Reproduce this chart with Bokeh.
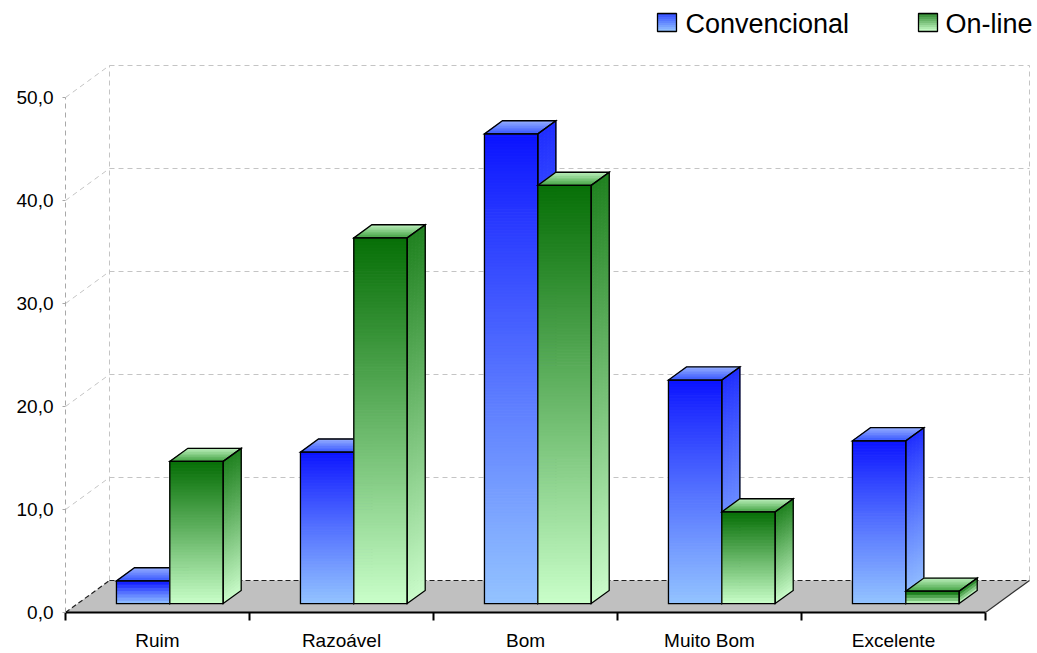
import numpy as np
from bokeh.plotting import figure
from bokeh.models import FixedTicker, Range1d
from bokeh.core.properties import value
from bokeh.embed import file_html
from bokeh.resources import INLINE

# ---- data -------------------------------------------------------------
categories = ["Ruim", "Razoável", "Bom", "Muito Bom", "Excelente"]
series_names = ["Convencional", "On-line"]
convencional = [2.2, 14.7, 45.6, 21.7, 15.8]
online = [13.8, 35.5, 40.6, 8.9, 1.2]
y_ticks = [0, 10, 20, 30, 40, 50]
y_tick_labels = ["0,0", "10,0", "20,0", "30,0", "40,0", "50,0"]

# ---- layout -----------------------------------------------------------
W, H = 1037, 653
LEFT, BOTTOM = 65, 41
PX_PER_CAT = 184.0
PX_PER_UNIT = 10.3
DEPTH_PX = (44.0, 32.0)          # oblique depth of the floor, in pixels
BAR_D0, BAR_D1 = 0.28, 0.69      # bar slab position inside the floor depth
BAR_W = 0.29                      # width of one bar, in category units

frame_w = W - LEFT
frame_h = H - BOTTOM
DX = DEPTH_PX[0] / PX_PER_CAT
DY = DEPTH_PX[1] / PX_PER_UNIT
n_cat = len(categories)
y_top = max(y_ticks)

FONT = "Liberation Sans"


def proj(x, v, d):
    """Oblique projection of (category x, value v, depth d) to the plot plane."""
    return x + d * DX, v + d * DY


def px_x(X):
    return (X - LEFT) / PX_PER_CAT


def px_y(Y):
    return (frame_h - Y) / PX_PER_UNIT


def mix(c0, c1, t):
    r, g, b = (int(round(a + (b_ - a) * t)) for a, b_ in zip(c0, c1))
    return "#%02x%02x%02x" % (r, g, b)


p = figure(width=W, height=H, output_backend="svg", toolbar_location=None,
           x_range=Range1d(0, frame_w / PX_PER_CAT),
           y_range=Range1d(0, frame_h / PX_PER_UNIT),
           min_border_left=LEFT, min_border_right=0,
           min_border_top=0, min_border_bottom=BOTTOM)
p.outline_line_color = None
p.grid.visible = False
p.background_fill_color = "white"
p.border_fill_color = "white"

GRID = "#c4c4c4"

# ---- back wall and side wall ----------------------------------------
xs, ys = [], []
for v in y_ticks[1:]:
    a = proj(0, v, 1)
    b = proj(n_cat, v, 1)
    xs.append([a[0], b[0]]); ys.append([a[1], b[1]])
for x in (0, n_cat):
    a = proj(x, 0, 1)
    b = proj(x, y_top, 1)
    xs.append([a[0], b[0]]); ys.append([a[1], b[1]])
for v in y_ticks[1:]:
    a = proj(0, v, 0)
    b = proj(0, v, 1)
    xs.append([a[0], b[0]]); ys.append([a[1], b[1]])
p.multi_line(xs, ys, line_color=GRID, line_width=1, line_dash="5 4")

# ---- floor ------------------------------------------------------------
corners = [proj(0, 0, 0), proj(n_cat, 0, 0), proj(n_cat, 0, 1), proj(0, 0, 1)]
p.patch([c[0] for c in corners], [c[1] for c in corners],
        fill_color="#c0c0c0", line_color=None)
p.multi_line([[corners[3][0], corners[2][0]], [corners[0][0], corners[3][0]]],
             [[corners[3][1], corners[2][1]], [corners[0][1], corners[3][1]]],
             line_color="#202020", line_width=1.2, line_dash="5 3")
p.line([corners[1][0], corners[2][0]], [corners[1][1], corners[2][1]],
       line_color="#303030", line_width=1.2)

# ---- bars -------------------------------------------------------------
palettes = {
    "Convencional": dict(front=((10, 18, 255), (148, 196, 255)),
                         side=((30, 44, 255), (150, 196, 255)),
                         top=((52, 82, 255), (146, 172, 255))),
    "On-line": dict(front=((8, 112, 8), (202, 255, 202)),
                    side=((32, 130, 32), (202, 252, 202)),
                    top=((62, 160, 62), (186, 238, 186))),
}
GAMMA = {"Convencional": 0.9, "On-line": 1.05}


def bar(x0, h, pal, gamma):
    x1 = x0 + BAR_W
    fx, fy, fc = [], [], []
    # vertical gradient strips (side first, then front)
    n = max(4, int(h * PX_PER_UNIT / 3))
    edges = np.linspace(0, h, n + 1)
    for face in ("side", "front"):
        for k in range(n):
            va, vb = edges[k], edges[k + 1]
            t = ((h - 0.5 * (va + vb)) / h) ** gamma
            if face == "side":
                pts = [proj(x1, va, BAR_D0), proj(x1, vb, BAR_D0),
                       proj(x1, vb, BAR_D1), proj(x1, va, BAR_D1)]
            else:
                pts = [proj(x0, va, BAR_D0), proj(x1, va, BAR_D0),
                       proj(x1, vb, BAR_D0), proj(x0, vb, BAR_D0)]
            fx.append([q[0] for q in pts]); fy.append([q[1] for q in pts])
            fc.append(mix(*pal[face], t))
    # top face strips, front edge to back edge
    m = 8
    dep = np.linspace(BAR_D0, BAR_D1, m + 1)
    for j in range(m):
        t = (j + 0.5) / m
        pts = [proj(x0, h, dep[j]), proj(x1, h, dep[j]),
               proj(x1, h, dep[j + 1]), proj(x0, h, dep[j + 1])]
        fx.append([q[0] for q in pts]); fy.append([q[1] for q in pts])
        fc.append(mix(*pal["top"], t))
    p.patches(fx, fy, fill_color=fc, line_color=fc, line_width=1)

    # face outlines
    faces = [
        [proj(x0, 0, BAR_D0), proj(x1, 0, BAR_D0), proj(x1, h, BAR_D0), proj(x0, h, BAR_D0)],
        [proj(x1, 0, BAR_D0), proj(x1, 0, BAR_D1), proj(x1, h, BAR_D1), proj(x1, h, BAR_D0)],
        [proj(x0, h, BAR_D0), proj(x1, h, BAR_D0), proj(x1, h, BAR_D1), proj(x0, h, BAR_D1)],
    ]
    p.patches([[q[0] for q in f] for f in faces], [[q[1] for q in f] for f in faces],
              fill_color=None, line_color="black", line_width=1.3, line_join="miter")


series = [("Convencional", convencional), ("On-line", online)]
for i in range(n_cat):
    c = i + 0.5
    for s, (name, vals) in enumerate(series):
        bar(c - BAR_W + s * BAR_W, vals[i], palettes[name], GAMMA[name])

# ---- legend -----------------------------------------------------------
legend_items = [(657, 685), (918, 945)]
legend_tops = {"Convencional": (45, 70, 255), "On-line": (40, 130, 40)}
for (sq_x, tx_x), name in zip(legend_items, series_names):
    pal = palettes[name]["front"]
    y0, y1 = 13, 31
    n = 9
    lx, ly, lc = [], [], []
    for k in range(n):
        ya_ = y0 + (y1 - y0) * k / n
        yb_ = y0 + (y1 - y0) * (k + 1) / n
        lx.append([px_x(sq_x), px_x(sq_x + 19), px_x(sq_x + 19), px_x(sq_x)])
        ly.append([px_y(ya_), px_y(ya_), px_y(yb_), px_y(yb_)])
        lc.append(mix(legend_tops[name], pal[1], (k + 0.5) / n))
    p.patches(lx, ly, fill_color=lc, line_color=lc, line_width=1)
    p.patch([px_x(sq_x), px_x(sq_x + 19), px_x(sq_x + 19), px_x(sq_x)],
            [px_y(y0), px_y(y0), px_y(y1), px_y(y1)],
            fill_color=None, line_color="black", line_width=1.3)
    p.text([px_x(tx_x)], [px_y(23)], text=[name], text_font=value(FONT),
           text_font_size="27px", text_baseline="middle", text_align="left",
           text_color="#000000")

# ---- axes -------------------------------------------------------------
ya = p.yaxis[0]
ya.ticker = FixedTicker(ticks=y_ticks, minor_ticks=[])
ya.major_label_overrides = {t: l for t, l in zip(y_ticks, y_tick_labels)}
ya.bounds = (0, y_top)
ya.axis_line_color = "#a8a8a8"
ya.axis_line_dash = "5 4"
ya.major_tick_line_color = "#a8a8a8"
ya.major_tick_out = 3
ya.major_tick_in = 0
ya.major_label_standoff = 9
ya.major_label_text_font = FONT
ya.major_label_text_font_size = "19px"
ya.major_label_text_color = "#000000"

centers = [i + 0.5 for i in range(n_cat)]
xa = p.xaxis[0]
xa.ticker = FixedTicker(ticks=centers, minor_ticks=list(range(n_cat + 1)))
xa.major_label_overrides = {c: name for c, name in zip(centers, categories)}
xa.bounds = (0, n_cat)
xa.axis_line_color = "black"
xa.axis_line_width = 2
xa.major_tick_line_color = None
xa.major_tick_out = 0
xa.major_tick_in = 0
xa.minor_tick_line_color = "black"
xa.minor_tick_line_width = 2
xa.minor_tick_out = 8
xa.minor_tick_in = 0
xa.major_label_standoff = 9
xa.major_label_text_font = FONT
xa.major_label_text_font_size = "19px"
xa.major_label_text_color = "#000000"

open("out.html", "w").write(file_html(p, INLINE))
